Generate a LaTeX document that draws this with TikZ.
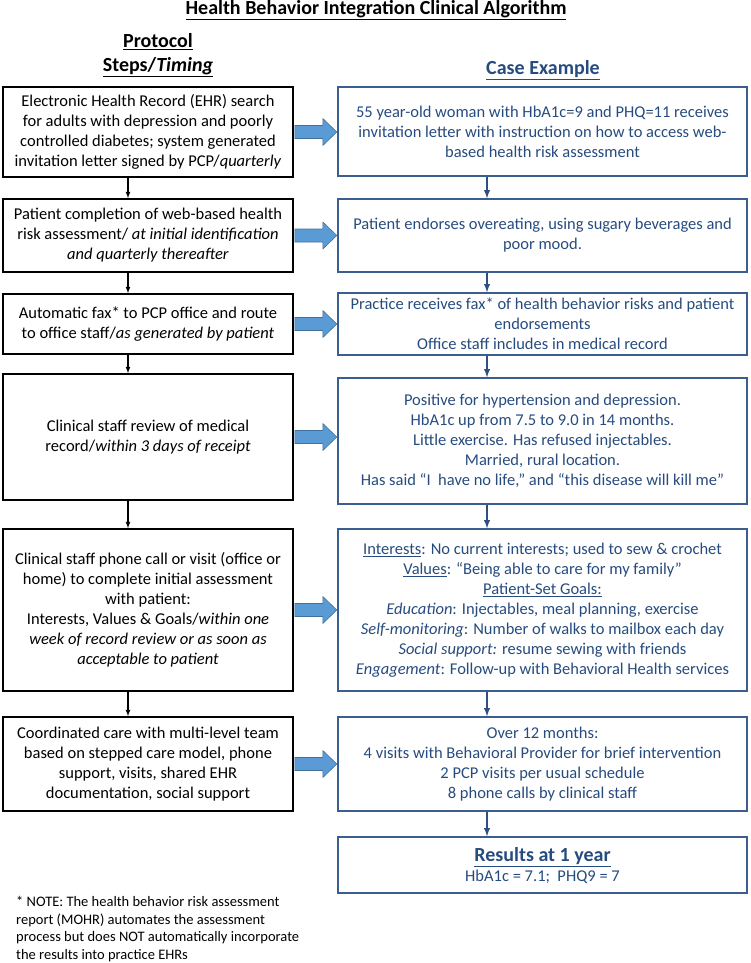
\documentclass[tikz,border=0pt]{standalone}
\usepackage{fontspec}
\setmainfont{Carlito}
\usepackage{xcolor}
\usetikzlibrary{arrows,calc}

\definecolor{casetext}{HTML}{264B7E}
\definecolor{caseline}{HTML}{3A5F8F}
\definecolor{casearrow}{HTML}{2F4F80}
\definecolor{fatfill}{HTML}{5B9BD5}
\definecolor{fatline}{HTML}{41719C}

\tikzset{
  stepbox/.style={draw=black, line width=1.6pt, minimum width=290pt, align=center,
    inner sep=2pt, font=\fontsize{16.5}{20}\selectfont},
  casebox/.style={draw=caseline, line width=1.5pt, minimum width=409pt, align=center,
    inner sep=2pt, text=casetext, font=\fontsize{16.5}{20}\selectfont},
  heading/.style={font=\fontsize{20}{24}\selectfont\bfseries, align=center},
  stepflow/.style={-latex, line width=1.2pt, black},
  caseflow/.style={-latex, line width=1.8pt, casearrow},
  fatarrow/.style={fill=fatfill, draw=fatline, line width=0.6pt}
}

\newcommand{\fatarrow}[1]{%
  \filldraw[fatarrow] ($(#1.east)+(1,-6.5)$) -- ++(28,0) -- ++(0,-7) -- ++(14,13.5)
    -- ++(-14,13.5) -- ++(0,-7) -- ++(-28,0) -- cycle;}

\begin{document}
\begin{tikzpicture}[x=1pt,y=-1pt]
\useasboundingbox (0,0) rectangle (750,963);

% headings
\node[heading] (title) at (376,10)
  {\underline{Health Behavior Integration Clinical Algorithm}};
\node[heading] (protocol) at (158,42) {\underline{Protocol}};
\node[heading] (timing) at (158,67) {\underline{Steps/\textit{Timing}}};
\node[heading, text=casetext] (case) at (543,70) {\underline{Case Example}};

% protocol steps
\node[stepbox, minimum height=90] (l1) at (148,132)
  {Electronic Health Record (EHR) search\\
   for adults with depression and poorly\\
   controlled diabetes; system generated\\
   invitation letter signed by PCP/\textit{quarterly}};
\node[stepbox, minimum height=73] (l2) at (148,235.5)
  {Patient completion of web-based health\\
   risk assessment/ \textit{at initial identification}\\
   \textit{and quarterly thereafter}};
\node[stepbox, minimum height=60] (l3) at (148,324)
  {Automatic fax* to PCP office and route\\
   to office staff/\textit{as generated by patient}};
\node[stepbox, minimum height=126] (l4) at (148,437)
  {Clinical staff review of medical\\
   record/\textit{within 3 days of receipt}};
\node[stepbox, minimum height=162] (l5) at (148,610)
  {Clinical staff phone call or visit (office or\\
   home) to complete initial assessment\\
   with patient:\\
   Interests, Values \& Goals/\textit{within one}\\
   \textit{week of record review or as soon as}\\
   \textit{acceptable to patient}};
\node[stepbox, minimum height=94] (l6) at (148,764)
  {Coordinated care with multi-level team\\
   based on stepped care model, phone\\
   support, visits, shared EHR\\
   documentation, social support};

% case example
\node[casebox, minimum height=89] (r1) at (542.5,131.5)
  {55 year-old woman with HbA1c=9 and PHQ=11 receives\\
   invitation letter with instruction on how to access web-\\
   based health risk assessment};
\node[casebox, minimum height=73] (r2) at (542.5,235.5)
  {Patient endorses overeating, using sugary beverages and\\
   poor mood.};
\node[casebox, minimum height=62] (r3) at (542.5,324)
  {Practice receives fax* of health behavior risks and patient\\
   endorsements\\
   Office staff includes in medical record};
\node[casebox, minimum height=126] (r4) at (542.5,441)
  {Positive for hypertension and depression.\\
   HbA1c up from 7.5 to 9.0 in 14 months.\\
   Little exercise. Has refused injectables.\\
   Married, rural location.\\
   Has said “I\ \ have no life,” and “this disease will kill me”};
\node[casebox, minimum height=162] (r5) at (542.5,610)
  {\underline{Interests}: No current interests; used to sew \& crochet\\
   \underline{Values}: “Being able to care for my family”\\
   \underline{Patient-Set Goals:}\\
   \textit{Education}: Injectables, meal planning, exercise\\
   \textit{Self-monitoring}: Number of walks to mailbox each day\\
   \textit{Social support:} resume sewing with friends\\
   \textit{Engagement}: Follow-up with Behavioral Health services};
\node[casebox, minimum height=94] (r6) at (542.5,764)
  {Over 12 months:\\
   4 visits with Behavioral Provider for brief intervention\\
   2 PCP visits per usual schedule\\
   8 phone calls by clinical staff};
\node[casebox, minimum height=56, text depth=1pt] (r7) at (542.5,865)
  {{\fontsize{20}{22}\selectfont\bfseries\underline{Results at 1 year}}\\
   HbA1c = 7.1;\ \ PHQ9 = 7};

% footnote
\node[anchor=north west, align=left, inner sep=0pt, font=\fontsize{14.5}{17.7}\selectfont] (note) at (16,896)
  {* NOTE: The health behavior risk assessment\\
   report (MOHR) automates the assessment\\
   process but does NOT automatically incorporate\\
   the results into practice EHRs};

% connectors
\coordinate (lx) at (128,0);
\coordinate (rx) at (487,0);
\draw[stepflow] (l1.south -| lx) -- (l2.north -| lx);
\draw[stepflow] (l2.south -| lx) -- (l3.north -| lx);
\draw[stepflow] (l3.south -| lx) -- (l4.north -| lx);
\draw[stepflow] (l4.south -| lx) -- (l5.north -| lx);
\draw[stepflow] (l5.south -| lx) -- (l6.north -| lx);
\draw[caseflow] (r1.south -| rx) -- (r2.north -| rx);
\draw[caseflow] (r2.south -| rx) -- (r3.north -| rx);
\draw[caseflow] (r3.south -| rx) -- (r4.north -| rx);
\draw[caseflow] (r4.south -| rx) -- (r5.north -| rx);
\draw[caseflow] (r5.south -| rx) -- (r6.north -| rx);
\draw[caseflow] (r6.south -| rx) -- (r7.north -| rx);

\fatarrow{l1}
\fatarrow{l2}
\fatarrow{l3}
\fatarrow{l4}
\fatarrow{l5}
\fatarrow{l6}
\end{tikzpicture}
\end{document}
